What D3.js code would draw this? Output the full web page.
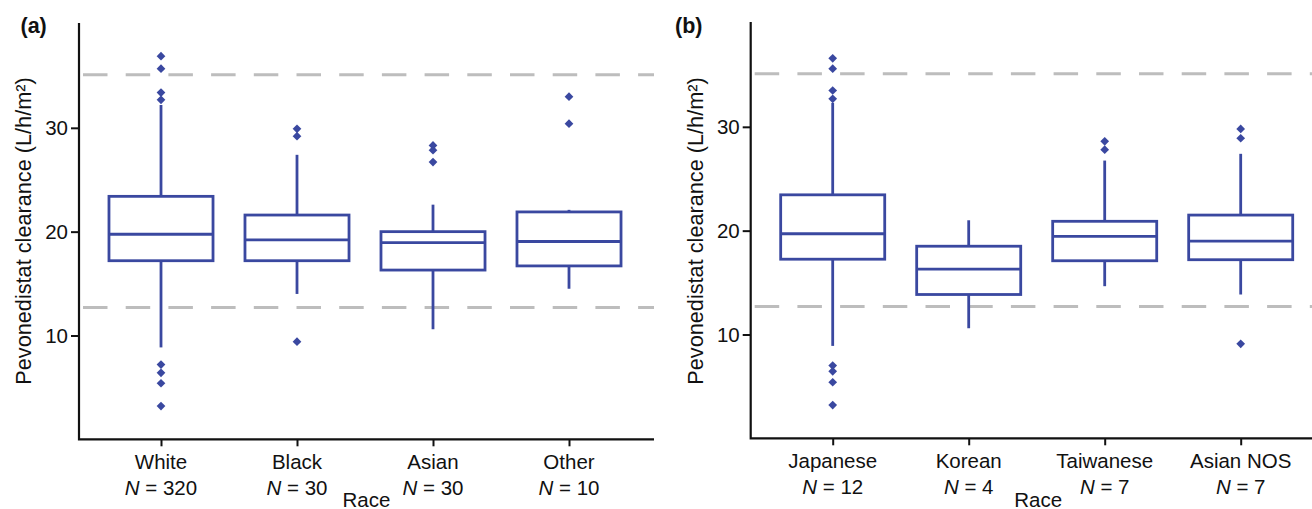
<!DOCTYPE html>
<html>
<head>
<meta charset="utf-8">
<script src="https://cdn.jsdelivr.net/npm/d3@7"></script>
<style>
  body { margin: 0; background: #fff; }
  svg { display: block; }
  text { font-family: "Liberation Sans", Arial, Helvetica, sans-serif; fill: #111; }
</style>
</head>
<body>
<svg width="1312" height="509"></svg>
<script>
// y axis ticks and the two dashed reference lines (L/h/m2)
const yTicks = [10, 20, 30];
const refLines = [12.7, 35.1];

// panel (a): race
const racesA = ["White", "Black", "Asian", "Other"];
const countsA = [320, 30, 30, 10];
const lowA = [8.85, 14.0, 10.6, 14.5];
const q1A = [17.2, 17.2, 16.3, 16.7];
const medA = [19.75, 19.2, 18.95, 19.05];
const q3A = [23.4, 21.6, 20.0, 21.9];
const highA = [32.2, 27.4, 22.6, 22.1];
const outA = [
  [36.9, 35.7, 33.4, 32.7, 7.2, 6.4, 5.4, 3.2],
  [29.9, 29.2, 9.4],
  [28.3, 27.85, 26.7],
  [33.0, 30.4]
];

// panel (b): Asian subgroups
const racesB = ["Japanese", "Korean", "Taiwanese", "Asian NOS"];
const countsB = [12, 4, 7, 7];
const lowB = [8.9, 10.6, 14.65, 13.85];
const q1B = [17.25, 13.85, 17.1, 17.2];
const medB = [19.7, 16.3, 19.45, 19.0];
const q3B = [23.45, 18.5, 20.9, 21.5];
const highB = [32.3, 21.0, 26.75, 27.4];
const outB = [
  [36.6, 35.6, 33.5, 32.7, 7.0, 6.45, 5.4, 3.2],
  [],
  [28.6, 27.8],
  [29.8, 28.9, 9.1]
];

const blue = "#3a48a0";
const svg = d3.select("svg");

function drawPanel(opt) {
  const g = svg.append("g");
  const x0 = opt.x0, axisW = 575;

  const y = d3.scaleLinear().domain([0, 40]).range([opt.bottom, opt.top]);
  const x = d3.scalePoint().domain(opt.races).range([x0 + 82, x0 + 490]);
  const bw = x.step() * 0.765;

  const rows = opt.races.map((r, i) => ({
    race: r, n: opt.counts[i], low: opt.low[i], q1: opt.q1[i], med: opt.med[i],
    q3: opt.q3[i], high: opt.high[i], out: opt.out[i]
  }));

  // dashed reference lines
  g.selectAll(".ref").data(refLines).join("line")
    .attr("x1", x0 + 4).attr("x2", x0 + axisW)
    .attr("y1", d => y(d)).attr("y2", d => y(d))
    .attr("stroke", "#bdbdbd").attr("stroke-width", 3)
    .attr("stroke-dasharray", "24.5 18.2");

  // whiskers, box, median
  const box = g.selectAll(".box").data(rows).join("g");
  box.append("line")
    .attr("x1", d => x(d.race)).attr("x2", d => x(d.race))
    .attr("y1", d => y(d.high)).attr("y2", d => y(d.q3));
  box.append("line")
    .attr("x1", d => x(d.race)).attr("x2", d => x(d.race))
    .attr("y1", d => y(d.q1)).attr("y2", d => y(d.low));
  box.append("rect")
    .attr("x", d => x(d.race) - bw / 2).attr("width", bw)
    .attr("y", d => y(d.q3)).attr("height", d => y(d.q1) - y(d.q3))
    .attr("fill", "none");
  box.append("line")
    .attr("x1", d => x(d.race) - bw / 2).attr("x2", d => x(d.race) + bw / 2)
    .attr("y1", d => y(d.med)).attr("y2", d => y(d.med));
  box.selectAll("line, rect").attr("stroke", blue).attr("stroke-width", 2.8);

  // outliers as diamonds
  const diamond = d3.symbol().type(d3.symbolSquare).size(38);
  box.selectAll(".out").data(d => d.out.map(v => ({ race: d.race, v: v }))).join("path")
    .attr("d", diamond)
    .attr("transform", d => `translate(${x(d.race)},${y(d.v)}) rotate(45)`)
    .attr("fill", blue);

  // y axis
  const ya = g.append("g").attr("transform", `translate(${x0},0)`)
    .call(d3.axisLeft(y).tickValues(yTicks).tickSize(8).tickPadding(3));
  ya.select(".domain").remove();
  ya.selectAll("line").attr("stroke", "#111").attr("stroke-width", 2);
  ya.selectAll("text").attr("font-size", 20.5).attr("font-family", null).style("fill", "#111");

  // x axis ticks
  const xa = g.append("g").attr("transform", `translate(0,${opt.bottom})`)
    .call(d3.axisBottom(x).tickSize(7).tickFormat(""));
  xa.select(".domain").remove();
  xa.selectAll("line").attr("stroke", "#111").attr("stroke-width", 2);

  // frame
  g.append("path")
    .attr("d", `M${x0},${opt.top - 1}V${opt.bottom}H${x0 + axisW}`)
    .attr("fill", "none").attr("stroke", "#111").attr("stroke-width", 2.2);

  // category labels
  g.selectAll(".cat").data(rows).join("text")
    .attr("x", d => x(d.race)).attr("y", opt.bottom + 30)
    .attr("text-anchor", "middle").attr("font-size", 20.5)
    .text(d => d.race);
  const nl = g.selectAll(".nl").data(rows).join("text")
    .attr("x", d => x(d.race)).attr("y", opt.bottom + 56)
    .attr("text-anchor", "middle").attr("font-size", 20.5);
  nl.append("tspan").attr("font-style", "italic").text("N");
  nl.append("tspan").text(d => " = " + d.n);

  g.append("text").attr("x", x0 + 287.5).attr("y", 506.5)
    .attr("text-anchor", "middle").attr("font-size", 20.5).text("Race");

  // y title
  g.append("text")
    .attr("transform", `translate(${x0 - 48},231) rotate(-90)`)
    .attr("text-anchor", "middle").attr("font-size", 21.7)
    .text("Pevonedistat clearance (L/h/m²)");

  // panel letter
  g.append("text").attr("x", opt.labelX).attr("y", 33)
    .attr("font-size", 21.5).attr("font-weight", "bold").text(opt.label);
}

drawPanel({ x0: 79, top: 24, bottom: 439.3, label: "(a)", labelX: 20.5,
  races: racesA, counts: countsA, low: lowA, q1: q1A, med: medA, q3: q3A, high: highA, out: outA });
drawPanel({ x0: 750.7, top: 23, bottom: 438.3, label: "(b)", labelX: 675,
  races: racesB, counts: countsB, low: lowB, q1: q1B, med: medB, q3: q3B, high: highB, out: outB });
</script>
</body>
</html>
